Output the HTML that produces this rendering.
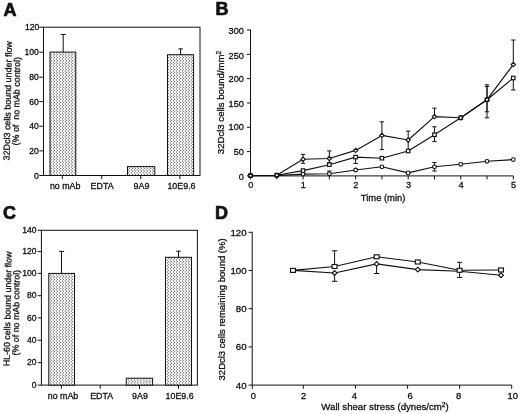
<!DOCTYPE html>
<html><head><meta charset="utf-8"><title>Figure</title>
<style>
html,body{margin:0;padding:0;background:#fff;}
body{width:520px;height:414px;overflow:hidden;font-family:"Liberation Sans",sans-serif;}
svg{display:block;}
text{font-family:"Liberation Sans",sans-serif;white-space:pre;}
</style></head><body>
<svg width="520" height="414" viewBox="0 0 520 414">
<defs>
<pattern id="dots" x="0" y="0" width="3" height="3" patternUnits="userSpaceOnUse" shape-rendering="crispEdges">
<rect x="0" y="0" width="1" height="1" fill="rgb(115,115,115)"/>
<rect x="1" y="0" width="1" height="1" fill="rgb(240,240,240)"/>
<rect x="2" y="0" width="1" height="1" fill="rgb(250,250,250)"/>
<rect x="0" y="1" width="1" height="1" fill="rgb(240,240,240)"/>
<rect x="1" y="1" width="1" height="1" fill="rgb(235,235,235)"/>
<rect x="2" y="1" width="1" height="1" fill="rgb(170,170,170)"/>
<rect x="0" y="2" width="1" height="1" fill="rgb(250,250,250)"/>
<rect x="1" y="2" width="1" height="1" fill="rgb(235,235,235)"/>
<rect x="2" y="2" width="1" height="1" fill="rgb(170,170,170)"/>
</pattern>
</defs>
<rect width="520" height="414" fill="#fff"/>
<g style="will-change:transform">
<text x="3.40" y="15.50" font-size="18" text-anchor="start" font-weight="bold" fill="#111" stroke="#111" stroke-width="0.7">A</text>
<rect x="43.5" y="27.2" width="156.5" height="148.3" fill="none" stroke="#111" stroke-width="1.0"/>
<line x1="39.30" y1="175.50" x2="43.50" y2="175.50" stroke="#111" stroke-width="1.0"/>
<text x="38.80" y="178.60" font-size="8.6" text-anchor="end" font-weight="normal" fill="#111" stroke="#111" stroke-width="0.3">0</text>
<line x1="39.30" y1="150.90" x2="43.50" y2="150.90" stroke="#111" stroke-width="1.0"/>
<text x="38.80" y="154.00" font-size="8.6" text-anchor="end" font-weight="normal" fill="#111" stroke="#111" stroke-width="0.3">20</text>
<line x1="39.30" y1="126.20" x2="43.50" y2="126.20" stroke="#111" stroke-width="1.0"/>
<text x="38.80" y="129.30" font-size="8.6" text-anchor="end" font-weight="normal" fill="#111" stroke="#111" stroke-width="0.3">40</text>
<line x1="39.30" y1="101.60" x2="43.50" y2="101.60" stroke="#111" stroke-width="1.0"/>
<text x="38.80" y="104.70" font-size="8.6" text-anchor="end" font-weight="normal" fill="#111" stroke="#111" stroke-width="0.3">60</text>
<line x1="39.30" y1="77.20" x2="43.50" y2="77.20" stroke="#111" stroke-width="1.0"/>
<text x="38.80" y="80.30" font-size="8.6" text-anchor="end" font-weight="normal" fill="#111" stroke="#111" stroke-width="0.3">80</text>
<line x1="39.30" y1="52.20" x2="43.50" y2="52.20" stroke="#111" stroke-width="1.0"/>
<text x="38.80" y="55.30" font-size="8.6" text-anchor="end" font-weight="normal" fill="#111" stroke="#111" stroke-width="0.3">100</text>
<line x1="39.30" y1="27.20" x2="43.50" y2="27.20" stroke="#111" stroke-width="1.0"/>
<text x="39.40" y="29.50" font-size="8.6" text-anchor="end" font-weight="normal" fill="#111" stroke="#111" stroke-width="0.3">120</text>
<rect x="50.00" y="52.10" width="25.80" height="123.40" fill="url(#dots)"/>
<rect x="50.00" y="52.10" width="25.80" height="123.40" fill="none" stroke="#111" stroke-width="1.0"/>
<line x1="63.20" y1="34.50" x2="63.20" y2="52.10" stroke="#111" stroke-width="1.0"/>
<line x1="60.60" y1="34.50" x2="65.80" y2="34.50" stroke="#111" stroke-width="1.0"/>
<rect x="127.50" y="166.60" width="27.30" height="8.90" fill="url(#dots)"/>
<rect x="127.50" y="166.60" width="27.30" height="8.90" fill="none" stroke="#111" stroke-width="1.0"/>
<rect x="167.50" y="54.70" width="26.10" height="120.80" fill="url(#dots)"/>
<rect x="167.50" y="54.70" width="26.10" height="120.80" fill="none" stroke="#111" stroke-width="1.0"/>
<line x1="180.60" y1="48.90" x2="180.60" y2="54.70" stroke="#111" stroke-width="1.0"/>
<line x1="178.30" y1="48.90" x2="182.90" y2="48.90" stroke="#111" stroke-width="1.0"/>
<line x1="62.30" y1="175.50" x2="62.30" y2="179.10" stroke="#111" stroke-width="1.0"/>
<line x1="101.80" y1="175.50" x2="101.80" y2="179.10" stroke="#111" stroke-width="1.0"/>
<line x1="140.75" y1="175.50" x2="140.75" y2="179.10" stroke="#111" stroke-width="1.0"/>
<line x1="179.90" y1="175.50" x2="179.90" y2="179.10" stroke="#111" stroke-width="1.0"/>
<text x="65.20" y="189.30" font-size="8.9" text-anchor="middle" font-weight="normal" fill="#111" stroke="#111" stroke-width="0.3">no mAb</text>
<text x="102.10" y="189.30" font-size="8.9" text-anchor="middle" font-weight="normal" fill="#111" stroke="#111" stroke-width="0.3">EDTA</text>
<text x="141.50" y="189.30" font-size="8.9" text-anchor="middle" font-weight="normal" fill="#111" stroke="#111" stroke-width="0.3">9A9</text>
<text x="181.50" y="189.30" font-size="8.9" text-anchor="middle" font-weight="normal" fill="#111" stroke="#111" stroke-width="0.3">10E9.6</text>
<text x="10.75" y="100.80" font-size="8.95" text-anchor="middle" font-weight="normal" fill="#111" stroke="#111" stroke-width="0.3" transform="rotate(-88.9 10.75 100.80)">32Dcl3 cells bound under flow</text>
<text x="19.45" y="101.30" font-size="8.9" text-anchor="middle" font-weight="normal" fill="#111" stroke="#111" stroke-width="0.3" transform="rotate(-88.9 19.45 101.30)">(% of  no mAb control)</text>
<text x="215.60" y="15.00" font-size="18" text-anchor="start" font-weight="bold" fill="#111" stroke="#111" stroke-width="0.7">B</text>
<line x1="250.50" y1="29.50" x2="250.50" y2="175.90" stroke="#111" stroke-width="1.0"/>
<line x1="250.50" y1="175.90" x2="513.30" y2="175.90" stroke="#111" stroke-width="1.0"/>
<line x1="246.90" y1="175.90" x2="250.50" y2="175.90" stroke="#111" stroke-width="1.0"/>
<text x="243.90" y="179.90" font-size="9.2" text-anchor="end" font-weight="normal" fill="#111" stroke="#111" stroke-width="0.3">0</text>
<line x1="246.90" y1="151.58" x2="250.50" y2="151.58" stroke="#111" stroke-width="1.0"/>
<text x="243.90" y="155.30" font-size="9.2" text-anchor="end" font-weight="normal" fill="#111" stroke="#111" stroke-width="0.3">50</text>
<line x1="246.90" y1="127.27" x2="250.50" y2="127.27" stroke="#111" stroke-width="1.0"/>
<text x="243.90" y="130.20" font-size="9.2" text-anchor="end" font-weight="normal" fill="#111" stroke="#111" stroke-width="0.3">100</text>
<line x1="246.90" y1="102.95" x2="250.50" y2="102.95" stroke="#111" stroke-width="1.0"/>
<text x="243.90" y="106.60" font-size="9.2" text-anchor="end" font-weight="normal" fill="#111" stroke="#111" stroke-width="0.3">150</text>
<line x1="246.90" y1="78.63" x2="250.50" y2="78.63" stroke="#111" stroke-width="1.0"/>
<text x="243.90" y="82.20" font-size="9.2" text-anchor="end" font-weight="normal" fill="#111" stroke="#111" stroke-width="0.3">200</text>
<line x1="246.90" y1="54.32" x2="250.50" y2="54.32" stroke="#111" stroke-width="1.0"/>
<text x="243.90" y="58.90" font-size="9.2" text-anchor="end" font-weight="normal" fill="#111" stroke="#111" stroke-width="0.3">250</text>
<line x1="246.90" y1="30.00" x2="250.50" y2="30.00" stroke="#111" stroke-width="1.0"/>
<text x="243.90" y="33.80" font-size="9.2" text-anchor="end" font-weight="normal" fill="#111" stroke="#111" stroke-width="0.3">300</text>
<line x1="250.50" y1="175.90" x2="250.50" y2="179.40" stroke="#111" stroke-width="1.0"/>
<line x1="276.78" y1="175.90" x2="276.78" y2="179.40" stroke="#111" stroke-width="1.0"/>
<line x1="303.06" y1="175.90" x2="303.06" y2="179.40" stroke="#111" stroke-width="1.0"/>
<line x1="329.34" y1="175.90" x2="329.34" y2="179.40" stroke="#111" stroke-width="1.0"/>
<line x1="355.62" y1="175.90" x2="355.62" y2="179.40" stroke="#111" stroke-width="1.0"/>
<line x1="381.90" y1="175.90" x2="381.90" y2="179.40" stroke="#111" stroke-width="1.0"/>
<line x1="408.18" y1="175.90" x2="408.18" y2="179.40" stroke="#111" stroke-width="1.0"/>
<line x1="434.46" y1="175.90" x2="434.46" y2="179.40" stroke="#111" stroke-width="1.0"/>
<line x1="460.74" y1="175.90" x2="460.74" y2="179.40" stroke="#111" stroke-width="1.0"/>
<line x1="487.02" y1="175.90" x2="487.02" y2="179.40" stroke="#111" stroke-width="1.0"/>
<line x1="513.30" y1="175.90" x2="513.30" y2="179.40" stroke="#111" stroke-width="1.0"/>
<text x="250.80" y="188.40" font-size="9.2" text-anchor="middle" font-weight="normal" fill="#111" stroke="#111" stroke-width="0.3">0</text>
<text x="303.36" y="188.40" font-size="9.2" text-anchor="middle" font-weight="normal" fill="#111" stroke="#111" stroke-width="0.3">1</text>
<text x="355.92" y="188.40" font-size="9.2" text-anchor="middle" font-weight="normal" fill="#111" stroke="#111" stroke-width="0.3">2</text>
<text x="408.48" y="188.40" font-size="9.2" text-anchor="middle" font-weight="normal" fill="#111" stroke="#111" stroke-width="0.3">3</text>
<text x="461.04" y="188.40" font-size="9.2" text-anchor="middle" font-weight="normal" fill="#111" stroke="#111" stroke-width="0.3">4</text>
<text x="513.60" y="188.40" font-size="9.2" text-anchor="middle" font-weight="normal" fill="#111" stroke="#111" stroke-width="0.3">5</text>
<text x="383.10" y="201.20" font-size="9.4" text-anchor="middle" font-weight="normal" fill="#111" stroke="#111" stroke-width="0.3">Time (min)</text>
<text x="224.40" y="102.50" font-size="9.6" text-anchor="middle" font-weight="normal" fill="#111" stroke="#111" stroke-width="0.3" transform="rotate(-90 224.40 102.50)">32Dcl3 cells bound/mm<tspan font-size="6.5" dy="-3.2">2</tspan></text>
<line x1="303.06" y1="154.40" x2="303.06" y2="163.30" stroke="#111" stroke-width="1.0"/>
<line x1="300.86" y1="154.40" x2="305.26" y2="154.40" stroke="#111" stroke-width="1.0"/>
<line x1="300.86" y1="163.30" x2="305.26" y2="163.30" stroke="#111" stroke-width="1.0"/>
<line x1="329.34" y1="150.90" x2="329.34" y2="163.00" stroke="#111" stroke-width="1.0"/>
<line x1="327.14" y1="150.90" x2="331.54" y2="150.90" stroke="#111" stroke-width="1.0"/>
<line x1="327.14" y1="163.00" x2="331.54" y2="163.00" stroke="#111" stroke-width="1.0"/>
<line x1="329.34" y1="171.00" x2="329.34" y2="175.00" stroke="#111" stroke-width="1.0"/>
<line x1="327.14" y1="171.00" x2="331.54" y2="171.00" stroke="#111" stroke-width="1.0"/>
<line x1="355.62" y1="157.10" x2="355.62" y2="163.50" stroke="#111" stroke-width="1.0"/>
<line x1="353.42" y1="163.50" x2="357.82" y2="163.50" stroke="#111" stroke-width="1.0"/>
<line x1="381.90" y1="121.80" x2="381.90" y2="149.60" stroke="#111" stroke-width="1.0"/>
<line x1="379.70" y1="121.80" x2="384.10" y2="121.80" stroke="#111" stroke-width="1.0"/>
<line x1="379.70" y1="149.60" x2="384.10" y2="149.60" stroke="#111" stroke-width="1.0"/>
<line x1="408.18" y1="131.10" x2="408.18" y2="151.00" stroke="#111" stroke-width="1.0"/>
<line x1="405.98" y1="131.10" x2="410.38" y2="131.10" stroke="#111" stroke-width="1.0"/>
<line x1="434.46" y1="108.10" x2="434.46" y2="116.60" stroke="#111" stroke-width="1.0"/>
<line x1="432.26" y1="108.10" x2="436.66" y2="108.10" stroke="#111" stroke-width="1.0"/>
<line x1="434.46" y1="126.80" x2="434.46" y2="141.60" stroke="#111" stroke-width="1.0"/>
<line x1="432.26" y1="126.80" x2="436.66" y2="126.80" stroke="#111" stroke-width="1.0"/>
<line x1="432.26" y1="141.60" x2="436.66" y2="141.60" stroke="#111" stroke-width="1.0"/>
<line x1="434.46" y1="162.50" x2="434.46" y2="171.00" stroke="#111" stroke-width="1.0"/>
<line x1="432.26" y1="162.50" x2="436.66" y2="162.50" stroke="#111" stroke-width="1.0"/>
<line x1="432.26" y1="171.00" x2="436.66" y2="171.00" stroke="#111" stroke-width="1.0"/>
<line x1="487.02" y1="84.80" x2="487.02" y2="117.80" stroke="#111" stroke-width="1.0"/>
<line x1="484.82" y1="84.80" x2="489.22" y2="84.80" stroke="#111" stroke-width="1.0"/>
<line x1="484.82" y1="117.80" x2="489.22" y2="117.80" stroke="#111" stroke-width="1.0"/>
<line x1="487.02" y1="86.50" x2="487.02" y2="111.80" stroke="#111" stroke-width="1.0"/>
<line x1="484.82" y1="86.50" x2="489.22" y2="86.50" stroke="#111" stroke-width="1.0"/>
<line x1="484.82" y1="111.80" x2="489.22" y2="111.80" stroke="#111" stroke-width="1.0"/>
<line x1="513.30" y1="40.00" x2="513.30" y2="64.60" stroke="#111" stroke-width="1.0"/>
<line x1="511.10" y1="40.00" x2="515.50" y2="40.00" stroke="#111" stroke-width="1.0"/>
<line x1="513.30" y1="78.00" x2="513.30" y2="90.00" stroke="#111" stroke-width="1.0"/>
<line x1="511.10" y1="90.00" x2="515.50" y2="90.00" stroke="#111" stroke-width="1.0"/>
<polyline points="250.50,175.60 276.78,175.60 303.06,174.10 329.34,173.80 355.62,170.00 381.90,166.80 408.18,172.90 434.46,166.80 460.74,164.30 487.02,161.30 513.30,159.60" fill="none" stroke="#111" stroke-width="1.15" stroke-linejoin="round"/>
<polyline points="250.50,175.60 276.78,175.20 303.06,170.60 329.34,164.70 355.62,157.10 381.90,158.20 408.18,151.00 434.46,134.70 460.74,117.80 487.02,99.70 513.30,78.00" fill="none" stroke="#111" stroke-width="1.15" stroke-linejoin="round"/>
<polyline points="250.50,175.60 276.78,175.20 303.06,159.30 329.34,158.50 355.62,150.40 381.90,135.40 408.18,140.00 434.46,116.60 460.74,117.80 487.02,99.70 513.30,64.60" fill="none" stroke="#111" stroke-width="1.15" stroke-linejoin="round"/>
<circle cx="250.50" cy="175.60" r="1.85" fill="#fff" stroke="#111" stroke-width="1.15"/>
<circle cx="276.78" cy="175.60" r="1.85" fill="#fff" stroke="#111" stroke-width="1.15"/>
<circle cx="303.06" cy="174.10" r="1.85" fill="#fff" stroke="#111" stroke-width="1.15"/>
<circle cx="329.34" cy="173.80" r="1.85" fill="#fff" stroke="#111" stroke-width="1.15"/>
<circle cx="355.62" cy="170.00" r="1.85" fill="#fff" stroke="#111" stroke-width="1.15"/>
<circle cx="381.90" cy="166.80" r="1.85" fill="#fff" stroke="#111" stroke-width="1.15"/>
<circle cx="408.18" cy="172.90" r="1.85" fill="#fff" stroke="#111" stroke-width="1.15"/>
<circle cx="434.46" cy="166.80" r="1.85" fill="#fff" stroke="#111" stroke-width="1.15"/>
<circle cx="460.74" cy="164.30" r="1.85" fill="#fff" stroke="#111" stroke-width="1.15"/>
<circle cx="487.02" cy="161.30" r="1.85" fill="#fff" stroke="#111" stroke-width="1.15"/>
<circle cx="513.30" cy="159.60" r="1.85" fill="#fff" stroke="#111" stroke-width="1.15"/>
<rect x="248.75" y="173.85" width="3.50" height="3.50" fill="#fff" stroke="#111" stroke-width="1.15"/>
<rect x="275.03" y="173.45" width="3.50" height="3.50" fill="#fff" stroke="#111" stroke-width="1.15"/>
<rect x="301.31" y="168.85" width="3.50" height="3.50" fill="#fff" stroke="#111" stroke-width="1.15"/>
<rect x="327.59" y="162.95" width="3.50" height="3.50" fill="#fff" stroke="#111" stroke-width="1.15"/>
<rect x="353.87" y="155.35" width="3.50" height="3.50" fill="#fff" stroke="#111" stroke-width="1.15"/>
<rect x="380.15" y="156.45" width="3.50" height="3.50" fill="#fff" stroke="#111" stroke-width="1.15"/>
<rect x="406.43" y="149.25" width="3.50" height="3.50" fill="#fff" stroke="#111" stroke-width="1.15"/>
<rect x="432.71" y="132.95" width="3.50" height="3.50" fill="#fff" stroke="#111" stroke-width="1.15"/>
<rect x="458.99" y="116.05" width="3.50" height="3.50" fill="#fff" stroke="#111" stroke-width="1.15"/>
<rect x="485.27" y="97.95" width="3.50" height="3.50" fill="#fff" stroke="#111" stroke-width="1.15"/>
<rect x="511.55" y="76.25" width="3.50" height="3.50" fill="#fff" stroke="#111" stroke-width="1.15"/>
<path d="M250.50 173.45L252.65 175.60L250.50 177.75L248.35 175.60Z" fill="#fff" stroke="#111" stroke-width="1.15"/>
<path d="M276.78 173.05L278.93 175.20L276.78 177.35L274.63 175.20Z" fill="#fff" stroke="#111" stroke-width="1.15"/>
<path d="M303.06 157.15L305.21 159.30L303.06 161.45L300.91 159.30Z" fill="#fff" stroke="#111" stroke-width="1.15"/>
<path d="M329.34 156.35L331.49 158.50L329.34 160.65L327.19 158.50Z" fill="#fff" stroke="#111" stroke-width="1.15"/>
<path d="M355.62 148.25L357.77 150.40L355.62 152.55L353.47 150.40Z" fill="#fff" stroke="#111" stroke-width="1.15"/>
<path d="M381.90 133.25L384.05 135.40L381.90 137.55L379.75 135.40Z" fill="#fff" stroke="#111" stroke-width="1.15"/>
<path d="M408.18 137.85L410.33 140.00L408.18 142.15L406.03 140.00Z" fill="#fff" stroke="#111" stroke-width="1.15"/>
<path d="M434.46 114.45L436.61 116.60L434.46 118.75L432.31 116.60Z" fill="#fff" stroke="#111" stroke-width="1.15"/>
<path d="M460.74 115.65L462.89 117.80L460.74 119.95L458.59 117.80Z" fill="#fff" stroke="#111" stroke-width="1.15"/>
<path d="M487.02 97.55L489.17 99.70L487.02 101.85L484.87 99.70Z" fill="#fff" stroke="#111" stroke-width="1.15"/>
<path d="M513.30 62.45L515.45 64.60L513.30 66.75L511.15 64.60Z" fill="#fff" stroke="#111" stroke-width="1.15"/>
<text x="3.00" y="218.90" font-size="18" text-anchor="start" font-weight="bold" fill="#111" stroke="#111" stroke-width="0.7">C</text>
<rect x="41.4" y="230.3" width="156.0" height="154.8" fill="none" stroke="#111" stroke-width="1.0"/>
<line x1="37.80" y1="385.10" x2="41.40" y2="385.10" stroke="#111" stroke-width="1.0"/>
<text x="36.50" y="387.70" font-size="8.55" text-anchor="end" font-weight="normal" fill="#111" stroke="#111" stroke-width="0.3">0</text>
<line x1="37.80" y1="362.60" x2="41.40" y2="362.60" stroke="#111" stroke-width="1.0"/>
<text x="36.50" y="365.20" font-size="8.55" text-anchor="end" font-weight="normal" fill="#111" stroke="#111" stroke-width="0.3">20</text>
<line x1="37.80" y1="340.30" x2="41.40" y2="340.30" stroke="#111" stroke-width="1.0"/>
<text x="36.50" y="342.90" font-size="8.55" text-anchor="end" font-weight="normal" fill="#111" stroke="#111" stroke-width="0.3">40</text>
<line x1="37.80" y1="317.90" x2="41.40" y2="317.90" stroke="#111" stroke-width="1.0"/>
<text x="36.50" y="320.50" font-size="8.55" text-anchor="end" font-weight="normal" fill="#111" stroke="#111" stroke-width="0.3">60</text>
<line x1="37.80" y1="295.70" x2="41.40" y2="295.70" stroke="#111" stroke-width="1.0"/>
<text x="36.50" y="298.30" font-size="8.55" text-anchor="end" font-weight="normal" fill="#111" stroke="#111" stroke-width="0.3">80</text>
<line x1="37.80" y1="273.40" x2="41.40" y2="273.40" stroke="#111" stroke-width="1.0"/>
<text x="36.50" y="276.00" font-size="8.55" text-anchor="end" font-weight="normal" fill="#111" stroke="#111" stroke-width="0.3">100</text>
<line x1="37.80" y1="251.60" x2="41.40" y2="251.60" stroke="#111" stroke-width="1.0"/>
<text x="36.50" y="254.20" font-size="8.55" text-anchor="end" font-weight="normal" fill="#111" stroke="#111" stroke-width="0.3">120</text>
<line x1="37.80" y1="230.30" x2="41.40" y2="230.30" stroke="#111" stroke-width="1.0"/>
<text x="36.50" y="232.90" font-size="8.55" text-anchor="end" font-weight="normal" fill="#111" stroke="#111" stroke-width="0.3">140</text>
<rect x="48.80" y="273.40" width="25.70" height="111.70" fill="url(#dots)"/>
<rect x="48.80" y="273.40" width="25.70" height="111.70" fill="none" stroke="#111" stroke-width="1.0"/>
<line x1="61.50" y1="251.40" x2="61.50" y2="273.40" stroke="#111" stroke-width="1.0"/>
<line x1="58.90" y1="251.40" x2="64.10" y2="251.40" stroke="#111" stroke-width="1.0"/>
<rect x="126.30" y="378.20" width="26.30" height="6.90" fill="url(#dots)"/>
<rect x="126.30" y="378.20" width="26.30" height="6.90" fill="none" stroke="#111" stroke-width="1.0"/>
<rect x="165.50" y="257.30" width="26.00" height="127.80" fill="url(#dots)"/>
<rect x="165.50" y="257.30" width="26.00" height="127.80" fill="none" stroke="#111" stroke-width="1.0"/>
<line x1="178.50" y1="251.20" x2="178.50" y2="257.30" stroke="#111" stroke-width="1.0"/>
<line x1="176.20" y1="251.20" x2="180.80" y2="251.20" stroke="#111" stroke-width="1.0"/>
<line x1="61.40" y1="385.10" x2="61.40" y2="388.70" stroke="#111" stroke-width="1.0"/>
<line x1="100.20" y1="385.10" x2="100.20" y2="388.70" stroke="#111" stroke-width="1.0"/>
<line x1="139.50" y1="385.10" x2="139.50" y2="388.70" stroke="#111" stroke-width="1.0"/>
<line x1="178.50" y1="385.10" x2="178.50" y2="388.70" stroke="#111" stroke-width="1.0"/>
<text x="63.00" y="398.80" font-size="8.9" text-anchor="middle" font-weight="normal" fill="#111" stroke="#111" stroke-width="0.3">no mAb</text>
<text x="101.70" y="398.80" font-size="8.9" text-anchor="middle" font-weight="normal" fill="#111" stroke="#111" stroke-width="0.3">EDTA</text>
<text x="140.00" y="398.80" font-size="8.9" text-anchor="middle" font-weight="normal" fill="#111" stroke="#111" stroke-width="0.3">9A9</text>
<text x="179.60" y="398.80" font-size="8.9" text-anchor="middle" font-weight="normal" fill="#111" stroke="#111" stroke-width="0.3">10E9.6</text>
<text x="10.60" y="309.00" font-size="8.85" text-anchor="middle" font-weight="normal" fill="#111" stroke="#111" stroke-width="0.3" transform="rotate(-89.0 10.60 309.00)">HL-60 cells bound under flow</text>
<text x="19.10" y="312.70" font-size="8.85" text-anchor="middle" font-weight="normal" fill="#111" stroke="#111" stroke-width="0.3" transform="rotate(-89.3 19.10 312.70)">(% of no mAb control)</text>
<text x="215.00" y="219.40" font-size="18" text-anchor="start" font-weight="bold" fill="#111" stroke="#111" stroke-width="0.7">D</text>
<line x1="252.20" y1="231.80" x2="252.20" y2="385.10" stroke="#111" stroke-width="1.0"/>
<line x1="252.20" y1="385.10" x2="511.80" y2="385.10" stroke="#111" stroke-width="1.0"/>
<line x1="248.60" y1="385.10" x2="252.20" y2="385.10" stroke="#111" stroke-width="1.0"/>
<text x="246.60" y="388.60" font-size="9.7" text-anchor="end" font-weight="normal" fill="#111" stroke="#111" stroke-width="0.3">40</text>
<line x1="248.60" y1="346.90" x2="252.20" y2="346.90" stroke="#111" stroke-width="1.0"/>
<text x="246.60" y="350.40" font-size="9.7" text-anchor="end" font-weight="normal" fill="#111" stroke="#111" stroke-width="0.3">60</text>
<line x1="248.60" y1="308.70" x2="252.20" y2="308.70" stroke="#111" stroke-width="1.0"/>
<text x="246.60" y="312.20" font-size="9.7" text-anchor="end" font-weight="normal" fill="#111" stroke="#111" stroke-width="0.3">80</text>
<line x1="248.60" y1="270.50" x2="252.20" y2="270.50" stroke="#111" stroke-width="1.0"/>
<text x="246.60" y="274.00" font-size="9.7" text-anchor="end" font-weight="normal" fill="#111" stroke="#111" stroke-width="0.3">100</text>
<line x1="248.60" y1="232.30" x2="252.20" y2="232.30" stroke="#111" stroke-width="1.0"/>
<text x="246.60" y="235.80" font-size="9.7" text-anchor="end" font-weight="normal" fill="#111" stroke="#111" stroke-width="0.3">120</text>
<line x1="252.30" y1="385.10" x2="252.30" y2="388.80" stroke="#111" stroke-width="1.0"/>
<text x="253.30" y="399.00" font-size="9.4" text-anchor="middle" font-weight="normal" fill="#111" stroke="#111" stroke-width="0.3">0</text>
<line x1="303.30" y1="385.10" x2="303.30" y2="388.80" stroke="#111" stroke-width="1.0"/>
<text x="303.60" y="399.00" font-size="9.4" text-anchor="middle" font-weight="normal" fill="#111" stroke="#111" stroke-width="0.3">2</text>
<line x1="355.40" y1="385.10" x2="355.40" y2="388.80" stroke="#111" stroke-width="1.0"/>
<text x="354.30" y="399.00" font-size="9.4" text-anchor="middle" font-weight="normal" fill="#111" stroke="#111" stroke-width="0.3">4</text>
<line x1="407.60" y1="385.10" x2="407.60" y2="388.80" stroke="#111" stroke-width="1.0"/>
<text x="410.10" y="399.00" font-size="9.4" text-anchor="middle" font-weight="normal" fill="#111" stroke="#111" stroke-width="0.3">6</text>
<line x1="459.60" y1="385.10" x2="459.60" y2="388.80" stroke="#111" stroke-width="1.0"/>
<text x="458.50" y="399.00" font-size="9.4" text-anchor="middle" font-weight="normal" fill="#111" stroke="#111" stroke-width="0.3">8</text>
<line x1="511.70" y1="385.10" x2="511.70" y2="388.80" stroke="#111" stroke-width="1.0"/>
<text x="512.80" y="399.00" font-size="9.4" text-anchor="middle" font-weight="normal" fill="#111" stroke="#111" stroke-width="0.3">10</text>
<text x="385.00" y="409.80" font-size="9.65" text-anchor="middle" font-weight="normal" fill="#111" stroke="#111" stroke-width="0.3">Wall shear stress (dynes/cm<tspan font-size="6.5" dy="-3.2">2</tspan><tspan dy="3.2">)</tspan></text>
<text x="224.90" y="309.40" font-size="9.5" text-anchor="middle" font-weight="normal" fill="#111" stroke="#111" stroke-width="0.3" transform="rotate(-90 224.90 309.40)">32Dcl3 cells remaining bound (%)</text>
<line x1="334.60" y1="250.80" x2="334.60" y2="266.40" stroke="#111" stroke-width="1.0"/>
<line x1="331.90" y1="250.80" x2="337.30" y2="250.80" stroke="#111" stroke-width="1.0"/>
<line x1="334.60" y1="273.20" x2="334.60" y2="281.30" stroke="#111" stroke-width="1.0"/>
<line x1="331.90" y1="281.30" x2="337.30" y2="281.30" stroke="#111" stroke-width="1.0"/>
<line x1="376.60" y1="263.80" x2="376.60" y2="273.50" stroke="#111" stroke-width="1.0"/>
<line x1="373.90" y1="273.50" x2="379.30" y2="273.50" stroke="#111" stroke-width="1.0"/>
<line x1="459.60" y1="262.30" x2="459.60" y2="277.50" stroke="#111" stroke-width="1.0"/>
<line x1="457.10" y1="262.30" x2="462.10" y2="262.30" stroke="#111" stroke-width="1.0"/>
<line x1="457.10" y1="277.50" x2="462.10" y2="277.50" stroke="#111" stroke-width="1.0"/>
<polyline points="293.00,270.40 334.60,266.50 376.60,256.80 417.80,262.00 459.60,270.30 501.00,270.00" fill="none" stroke="#111" stroke-width="1.15" stroke-linejoin="round"/>
<polyline points="293.00,270.40 334.60,273.00 376.60,263.90 417.80,269.60 459.60,271.20 501.00,275.20" fill="none" stroke="#111" stroke-width="1.15" stroke-linejoin="round"/>
<path d="M334.60 270.60L337.00 273.00L334.60 275.40L332.20 273.00Z" fill="#fff" stroke="#111" stroke-width="1.15"/>
<path d="M376.60 261.50L379.00 263.90L376.60 266.30L374.20 263.90Z" fill="#fff" stroke="#111" stroke-width="1.15"/>
<path d="M417.80 267.20L420.20 269.60L417.80 272.00L415.40 269.60Z" fill="#fff" stroke="#111" stroke-width="1.15"/>
<path d="M501.00 272.80L503.40 275.20L501.00 277.60L498.60 275.20Z" fill="#fff" stroke="#111" stroke-width="1.15"/>
<rect x="290.55" y="268.40" width="4.90" height="4.00" fill="#fff" stroke="#111" stroke-width="1.15"/>
<rect x="332.15" y="264.50" width="4.90" height="4.00" fill="#fff" stroke="#111" stroke-width="1.15"/>
<rect x="374.15" y="254.80" width="4.90" height="4.00" fill="#fff" stroke="#111" stroke-width="1.15"/>
<rect x="415.35" y="260.00" width="4.90" height="4.00" fill="#fff" stroke="#111" stroke-width="1.15"/>
<rect x="457.15" y="268.30" width="4.90" height="4.00" fill="#fff" stroke="#111" stroke-width="1.15"/>
<rect x="498.55" y="268.00" width="4.90" height="4.00" fill="#fff" stroke="#111" stroke-width="1.15"/>
</g>
</svg>
</body></html>
